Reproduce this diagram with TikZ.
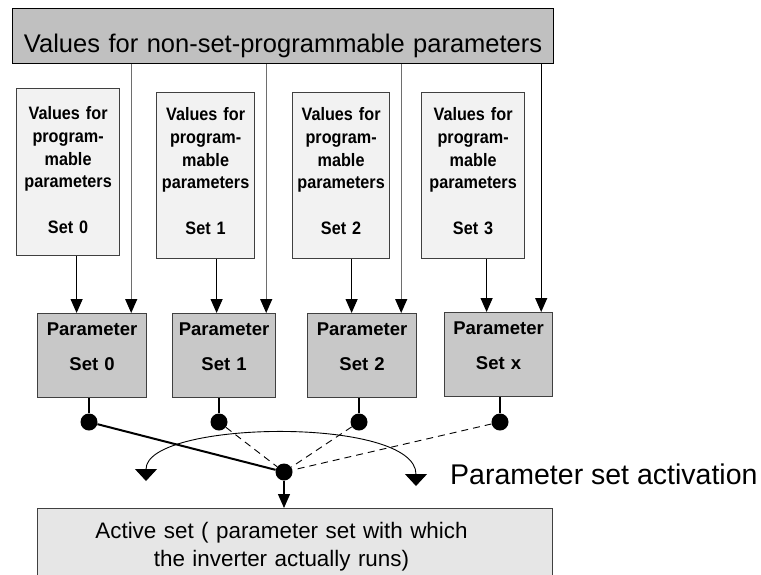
\documentclass[tikz,border=0pt]{standalone}
\usepackage{fontspec}
\setmainfont{Liberation Sans}
\newfontfamily\narrowsans[FakeStretch=0.9]{Liberation Sans}
\usetikzlibrary{arrows.meta}

\definecolor{topfill}{RGB}{192,192,192}
\definecolor{valfill}{RGB}{242,242,242}
\definecolor{parfill}{RGB}{200,200,200}
\definecolor{actfill}{RGB}{230,230,230}
\definecolor{boxedge}{RGB}{64,64,64}
\definecolor{feedline}{RGB}{110,110,110}

\tikzset{
  valbox/.style={draw=boxedge, line width=1.2pt, fill=valfill, inner sep=0pt,
    align=center, font=\narrowsans\fontsize{18}{22.7}\selectfont\bfseries,
    text height=28pt, text depth=138pt, anchor=north west},
  parbox/.style={draw=boxedge, line width=1.2pt, fill=parfill, inner sep=0pt,
    align=center, font=\fontsize{18.5}{35}\selectfont\bfseries,
    text height=22pt, text depth=62pt, anchor=north west},
  dot/.style={circle, fill=black, inner sep=0pt, minimum size=17pt},
  arr/.style={line width=1.2pt, -{Triangle[length=14pt,width=12pt]}},
  feed/.style={arr, draw=feedline, -{Triangle[length=14pt,width=12pt,black]}}
}

\begin{document}
\begin{tikzpicture}[x=1pt,y=-1pt]
\useasboundingbox (0,0) rectangle (761,574);
\clip (0,0) rectangle (761,574);

\node [draw=black, line width=1.2pt, fill=topfill, inner sep=0pt, anchor=north west,
  text width=541pt, align=center, text height=44pt, text depth=11pt,
  font=\fontsize{25.5}{30}\selectfont] (top) at (12,8)
  {Values for non-set-programmable parameters};

\node [valbox, text width=103pt, text height=31pt, text depth=136pt] (v0) at (16,88)
  {Values for\\program-\\mable\\parameters\\[22.7pt]Set 0};
\node [valbox, text width=98pt] (v1) at (156,92)
  {Values for\\program-\\mable\\parameters\\[22.7pt]Set 1};
\node [valbox, text width=97pt] (v2) at (292,92)
  {Values for\\program-\\mable\\parameters\\[22.7pt]Set 2};
\node [valbox, text width=103pt] (v3) at (421,92)
  {Values for\\program-\\mable\\parameters\\[22.7pt]Set 3};

\node [parbox, text width=109pt] (p0) at (37,313) {Parameter\\Set 0};
\node [parbox, text width=103pt] (p1) at (172,313) {Parameter\\Set 1};
\node [parbox, text width=109pt] (p2) at (307,313) {Parameter\\Set 2};
\node [parbox, text width=108pt] (p3) at (444,312) {Parameter\\Set x};

\draw [arr] ([xshift=8.5pt]v0.south) -- ([xshift=8.5pt]v0.south |- p0.north);
\draw [arr] ([xshift=11pt]v1.south) -- ([xshift=11pt]v1.south |- p1.north);
\draw [arr] ([xshift=10.5pt]v2.south) -- ([xshift=10.5pt]v2.south |- p2.north);
\draw [arr] ([xshift=13.5pt]v3.south) -- ([xshift=13.5pt]v3.south |- p3.north);

\draw [feed] ([xshift=-16pt]p0.north east |- top.south) -- ([xshift=-16pt]p0.north east);
\draw [feed] ([xshift=-10pt]p1.north east |- top.south) -- ([xshift=-10pt]p1.north east);
\draw [feed] ([xshift=-16pt]p2.north east |- top.south) -- ([xshift=-16pt]p2.north east);
\draw [feed, draw=black] ([xshift=-12pt]p3.north east |- top.south) -- ([xshift=-12pt]p3.north east);

\node [dot] (d0) at (89,422) {};
\node [dot] (d1) at (219,422) {};
\node [dot] (d2) at (359,422) {};
\node [dot] (d3) at (500,422) {};
\node [dot] (hub) at (284,472) {};

\draw [line width=1.5pt] (p0.south -| d0) -- (d0);
\draw [line width=1.5pt] (p1.south -| d1) -- (d1);
\draw [line width=1.5pt] (p2.south -| d2) -- (d2);
\draw [line width=1.5pt] (p3.south -| d3) -- (d3);

\draw [line width=2pt] (d0) -- (hub);
\draw [line width=0.9pt, dash pattern=on 7pt off 5pt] (d1) -- (hub);
\draw [line width=0.9pt, dash pattern=on 7pt off 5pt] (d2) -- (hub);
\draw [line width=0.9pt, dash pattern=on 7pt off 5pt] (d3) -- (hub);

\coordinate (swL) at (146,481);
\coordinate (swR) at (416,486);
\draw [line width=0.9pt, {Triangle[length=12pt,width=22pt]}-{Triangle[length=12pt,width=22pt]}]
  (swL) .. controls (146,420) and (416,416) .. (swR);
\node [anchor=base west, inner sep=0pt, font=\fontsize{28.5}{34}\selectfont] (swtext) at (450,484)
  {Parameter set activation};

\node [draw=boxedge, line width=1.2pt, fill=actfill, inner sep=0pt, anchor=north west,
  minimum width=515pt, minimum height=80pt] (act) at (37,508) {};
\node [anchor=base, inner sep=0pt, text width=420pt, align=center,
  font=\fontsize{22.4}{28}\selectfont] (acttext) at (281.5,538)
  {Active set ( parameter set with which\\the inverter actually runs)};

\draw [arr] (hub) -- (act.north -| hub);
\end{tikzpicture}
\end{document}
